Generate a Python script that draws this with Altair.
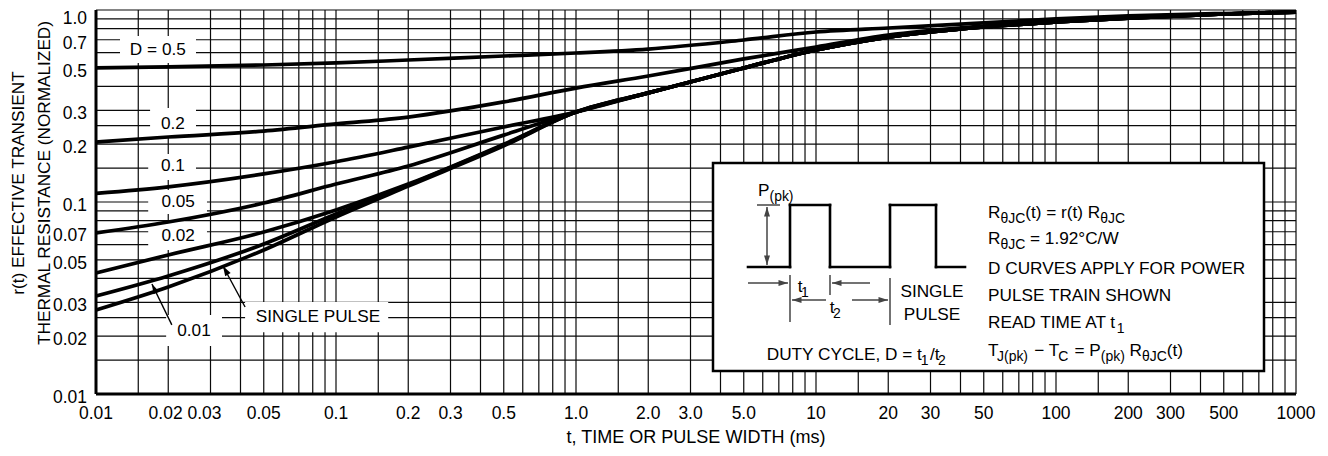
import glob
import subprocess

import altair as alt
import pandas as pd

# ---------------- font choice (Helvetica Narrow look-alike if present) ----------------
def _has_narrow():
    try:
        out = subprocess.run(["fc-list", ":", "family"], capture_output=True, text=True, timeout=10).stdout
        if "liberation sans narrow" in out.lower():
            return True
    except Exception:
        pass
    return bool(glob.glob("/usr/share/fonts/**/LiberationSansNarrow*", recursive=True))


NARROW = _has_narrow()
FONT = "Liberation Sans Narrow" if NARROW else "Liberation Sans"
K = 1.0 if NARROW else 0.82          # size factor so that text widths stay the same


def fs(nominal):
    return round(nominal * K, 2)


# ---------------- curve data ----------------
t_ms = [0.01, 0.02, 0.05, 0.1, 0.2, 0.5, 1, 2, 5, 10, 20, 50, 100, 200, 500, 1000]
r_d050 = [0.499, 0.505, 0.517, 0.530, 0.549, 0.576, 0.597, 0.626, 0.698, 0.768, 0.806, 0.856, 0.898, 0.931, 0.959, 0.976]
r_d020 = [0.205, 0.218, 0.234, 0.255, 0.277, 0.332, 0.392, 0.453, 0.556, 0.642, 0.741, 0.825, 0.876, 0.920, 0.953, 0.976]
r_d010 = [0.111, 0.120, 0.140, 0.162, 0.193, 0.246, 0.294, 0.370, 0.499, 0.619, 0.723, 0.816, 0.866, 0.908, 0.953, 0.976]
r_d005 = [0.0690, 0.0787, 0.0988, 0.124, 0.154, 0.223, 0.294, 0.370, 0.499, 0.619, 0.723, 0.816, 0.866, 0.908, 0.953, 0.976]
r_d002 = [0.0427, 0.0530, 0.0698, 0.0909, 0.124, 0.200, 0.294, 0.370, 0.499, 0.619, 0.723, 0.816, 0.866, 0.908, 0.953, 0.976]
r_d001 = [0.0324, 0.0412, 0.0604, 0.0866, 0.1227, 0.198, 0.294, 0.370, 0.499, 0.619, 0.723, 0.816, 0.866, 0.908, 0.953, 0.976]
r_single = [0.0274, 0.0361, 0.0562, 0.0836, 0.121, 0.196, 0.294, 0.370, 0.499, 0.619, 0.723, 0.816, 0.866, 0.908, 0.953, 0.976]
series_names = ["D=0.5", "D=0.2", "D=0.1", "D=0.05", "D=0.02", "D=0.01", "single"]
series_vals = [r_d050, r_d020, r_d010, r_d005, r_d002, r_d001, r_single]

# ---------------- axes: grid positions and labels ----------------
T_MIN, T_MAX, R_MIN, R_MAX = 0.01, 1000, 0.01, 1.0
x_grid = [0.01, 0.015, 0.02, 0.03, 0.04, 0.05, 0.06, 0.07, 0.08, 0.09,
          0.1, 0.15, 0.2, 0.3, 0.4, 0.5, 0.6, 0.7, 0.8, 0.9,
          1, 1.5, 2, 3, 4, 5, 6, 7, 8, 9,
          10, 15, 20, 30, 40, 50, 60, 70, 80, 90,
          100, 150, 200, 300, 400, 500, 600, 700, 800, 900, 1000]
x_label_txt = ["0.01", "0.02", "0.03", "0.05", "0.1", "0.2", "0.3", "0.5", "1.0", "2.0", "3.0", "5.0",
               "10", "20", "30", "50", "100", "200", "300", "500", "1000"]
x_label_pos = [0.01, 0.0195, 0.0283, 0.05, 0.1, 0.2, 0.3, 0.5, 1, 2, 3, 5, 10, 20, 30, 50, 100, 200, 300, 500, 1000]
y_grid = [0.01, 0.015, 0.02, 0.025, 0.03, 0.04, 0.05, 0.06, 0.07, 0.08, 0.09,
          0.1, 0.15, 0.2, 0.25, 0.3, 0.4, 0.5, 0.6, 0.7, 0.8, 0.9, 1.0]
y_label_txt = ["0.01", "0.02", "0.03", "0.05", "0.07", "0.1", "0.2", "0.3", "0.5", "0.7", "1.0"]
y_label_pos = [0.01, 0.02, 0.03, 0.05, 0.07, 0.1, 0.2, 0.3, 0.5, 0.7, 0.94]
x_title = "t, TIME OR PULSE WIDTH (ms)"
x_title_t = 3.162                      # centre of the time axis
y_title_lines = ["r(t) EFFECTIVE TRANSIENT", "THERMAL RESISTANCE (NORMALIZED)"]
y_title_t = [0.00478, 0.00613]         # left of the axis, one per line
y_title_r = 0.1256

# ---------------- curve labels ----------------
lab_text = ["D = 0.5", "0.2", "0.1", "0.05", "0.02", "0.01", "SINGLE PULSE"]
lab_t = [0.0181, 0.0209, 0.0209, 0.0220, 0.0220, 0.0256, 0.0841]
lab_r = [0.619, 0.255, 0.154, 0.100, 0.0665, 0.0213, 0.0252]
box_t1 = [0.01259, 0.0168, 0.0165, 0.0165, 0.0165, 0.0196, 0.0418]
box_t2 = [0.0261, 0.0261, 0.0261, 0.0290, 0.0290, 0.0335, 0.165]
box_r1 = [0.530, 0.221, 0.130, 0.0866, 0.0562, 0.0178, 0.0210]
box_r2 = [0.732, 0.309, 0.178, 0.1155, 0.0787, 0.0258, 0.0301]
arr_t1 = [0.0207, 0.0418]
arr_r1 = [0.0229, 0.0284]
arr_t2 = [0.0171, 0.0338]
arr_r2 = [0.0374, 0.0464]
arr_angle = [334, 330]

# ---------------- inset diagram (box units: 0..551 wide, 0..208 tall, y down) ----------------
inset_w, inset_h = 551, 208
wave_x1 = [35, 77, 77, 117, 117, 177, 177, 223, 223]
wave_y1 = [104, 104, 42, 42, 104, 104, 42, 42, 104]
wave_x2 = [77, 77, 117, 117, 177, 177, 223, 223, 252]
wave_y2 = [104, 42, 42, 104, 104, 42, 42, 104, 104]
thin_x1 = [44, 54, 35, 157, 77, 117, 177, 113, 139]
thin_y1 = [42, 44, 120, 120, 112, 112, 115, 137, 137]
thin_x2 = [67, 54, 75, 119, 77, 117, 177, 79, 175]
thin_y2 = [42, 102, 120, 120, 159, 132, 162, 137, 137]
head_x = [54, 54, 75, 119, 79, 175]
head_y = [44, 102, 120, 120, 137, 137]
head_angle = [0, 180, 90, 270, 270, 90]

# text runs: (x, baseline y, align, [(text, is_subscript), ...])
inset_runs = [
    (45, 33, "left", [("P", 0), ("(pk)", 1)]),
    (91, 129, "center", [("t", 0), ("1", 1)]),
    (123, 150, "center", [("t", 0), ("2", 1)]),
    (144, 197, "center", [("DUTY CYCLE, D = t", 0), ("1", 1), ("/t", 0), ("2", 1)]),
    (219, 134, "center", [("SINGLE", 0)]),
    (219, 157, "center", [("PULSE", 0)]),
    (275, 55, "left", [("R", 0), ("θJC", 1), ("(t) = r(t) R", 0), ("θJC", 1)]),
    (275, 81, "left", [("R", 0), ("θJC", 1), (" = 1.92°C/W", 0)]),
    (275, 111, "left", [("D CURVES APPLY FOR POWER", 0)]),
    (275, 138, "left", [("PULSE TRAIN SHOWN", 0)]),
    (275, 165, "left", [("READ TIME AT t", 0), ("1", 1)]),
    (275, 193, "left", [("T", 0), ("J(pk)", 1), (" − T", 0), ("C", 1), (" = P", 0), ("(pk)", 1),
                        (" R", 0), ("θJC", 1), ("(t)", 0)]),
]
MAIN_PT, SUB_PT, SUB_DROP = 21, 17, 5

# Helvetica advance widths (1/1000 em); Liberation fonts share these metrics
AFM = {' ': 278, '(': 333, ')': 333, ',': 278, '.': 278, '/': 278, '=': 584, '°': 400, '−': 584, 'θ': 556}
AFM.update({d: 556 for d in "0123456789"})
AFM.update(dict(zip("ABCDEFGHIJKLMNOPQRSTUVWXYZ",
                    [667, 667, 722, 722, 667, 611, 778, 722, 278, 500, 667, 556, 833, 722, 778, 667, 778, 722,
                     667, 611, 722, 667, 944, 667, 667, 611])))
AFM.update(dict(zip("abcdefghijklmnopqrstuvwxyz",
                    [556, 556, 500, 556, 556, 278, 556, 556, 222, 222, 500, 222, 833, 556, 556, 556, 556, 333,
                     500, 278, 556, 500, 722, 500, 500, 500])))


def text_w(s, pt):
    return sum(AFM.get(c, 556) for c in s) / 1000.0 * pt * 0.82


seg_rows = []
for x0, y0, align, parts in inset_runs:
    total = sum(text_w(s, SUB_PT if sub else MAIN_PT) for s, sub in parts)
    x = x0 - total / 2 if align == "center" else x0
    prev = ""
    for s, sub in parts:
        pt = SUB_PT if sub else MAIN_PT
        lead = len(s) - len(s.lstrip(" "))
        kern = -1.5 if (sub and prev.endswith(("t", "T"))) else 0
        seg_rows.append({"text": s.strip(" "), "x": x + text_w(" " * lead, pt) + kern,
                         "y": y0 + (SUB_DROP if sub else 0), "s": fs(pt)})
        x += text_w(s, pt)
        prev = s

# ---------------- tables ----------------
curves = pd.DataFrame(
    [{"t": t, "r": r, "D": n} for n, vals in zip(series_names, series_vals) for t, r in zip(t_ms, vals)]
)
labels = pd.DataFrame({"text": lab_text, "t": lab_t, "r": lab_r,
                       "t1": box_t1, "t2": box_t2, "r1": box_r1, "r2": box_r2})
arrows = pd.DataFrame({"t1": arr_t1, "r1": arr_r1, "t2": arr_t2, "r2": arr_r2, "ang": arr_angle})
xg = pd.DataFrame({"t": x_grid})
yg = pd.DataFrame({"r": y_grid})
xl = pd.DataFrame({"t": x_label_pos, "text": x_label_txt, "r": [R_MIN] * len(x_label_pos)})
yl = pd.DataFrame({"r": y_label_pos, "text": y_label_txt, "t": [T_MIN] * len(y_label_pos)})
xt = pd.DataFrame({"t": [x_title_t], "r": [R_MIN], "text": [x_title]})
yt = pd.DataFrame({"t": y_title_t, "r": [y_title_r] * 2, "text": y_title_lines})
axl_x = pd.DataFrame({"t": [T_MIN]})
axl_y = pd.DataFrame({"r": [R_MIN]})

xs = alt.Scale(type="log", domain=[T_MIN, T_MAX], nice=False)
ys = alt.Scale(type="log", domain=[R_MIN, R_MAX], nice=False)
X = lambda f: alt.X(f, scale=xs, axis=None)
Y = lambda f: alt.Y(f, scale=ys, axis=None)

grid_v = alt.Chart(xg).mark_rule(color="#0a0a0a", strokeWidth=1.2).encode(x=X("t:Q"))
grid_h = alt.Chart(yg).mark_rule(color="#0a0a0a", strokeWidth=1.2).encode(y=Y("r:Q"))
boxes = alt.Chart(labels).mark_rect(fill="white", strokeWidth=0).encode(
    x=X("t1:Q"), x2="t2:Q", y=Y("r1:Q"), y2="r2:Q")
lines = alt.Chart(curves).mark_line(color="black", strokeWidth=3.7, interpolate="monotone").encode(
    x=X("t:Q"), y=Y("r:Q"), detail="D:N")
dom_l = alt.Chart(axl_x).mark_rule(color="black", strokeWidth=3).encode(x=X("t:Q"))
dom_b = alt.Chart(axl_y).mark_rule(color="black", strokeWidth=3).encode(y=Y("r:Q"))
xlab = alt.Chart(xl).mark_text(font=FONT, fontSize=fs(21.3), color="black", align="center",
                               baseline="alphabetic", dy=25).encode(x=X("t:Q"), y=Y("r:Q"), text="text:N")
ylab = alt.Chart(yl).mark_text(font=FONT, fontSize=fs(21.3), color="black", align="right",
                               baseline="alphabetic", dx=-9, dy=9).encode(x=X("t:Q"), y=Y("r:Q"), text="text:N")
xtit = alt.Chart(xt).mark_text(font=FONT, fontSize=fs(22), color="black", align="center",
                               baseline="alphabetic", dy=49).encode(x=X("t:Q"), y=Y("r:Q"), text="text:N")
ytit = alt.Chart(yt).mark_text(font=FONT, fontSize=fs(21), color="black", align="center",
                               baseline="middle", angle=270).encode(x=X("t:Q"), y=Y("r:Q"), text="text:N")
texts = alt.Chart(labels).mark_text(font=FONT, fontSize=fs(21), color="black", align="center",
                                    baseline="middle").encode(x=X("t:Q"), y=Y("r:Q"), text="text:N")
arrow_lines = alt.Chart(arrows).mark_rule(color="black", strokeWidth=1.4).encode(
    x=X("t1:Q"), y=Y("r1:Q"), x2="t2:Q", y2="r2:Q")
HEAD = "M0,0L0.6,1.9L-0.6,1.9Z"
arrow_heads = alt.Chart(arrows).mark_point(shape=HEAD, filled=True, color="black", size=110,
                                           opacity=1).encode(
    x=X("t2:Q"), y=Y("r2:Q"), angle=alt.Angle("ang:Q", scale=None))


# ----- inset: box units mapped onto the log axes (box origin at t=3.72 ms, r=0.16) -----
def bx(f):
    return f"pow(10, -2 + (datum.{f} + 617) / 240)"


def by(f):
    return f"pow(10, -(datum.{f} + 153) / 192)"


frame = pd.DataFrame({"x1": [0], "x2": [inset_w], "y1": [0], "y2": [inset_h]})
waves = pd.DataFrame({"x1": wave_x1, "y1": wave_y1, "x2": wave_x2, "y2": wave_y2})
thins = pd.DataFrame({"x1": thin_x1, "y1": thin_y1, "x2": thin_x2, "y2": thin_y2})
heads = pd.DataFrame({"x": head_x, "y": head_y, "ang": head_angle})
segs = pd.DataFrame(seg_rows)


def seg_chart(df):
    return alt.Chart(df).transform_calculate(
        tx1=bx("x1"), tx2=bx("x2"), ty1=by("y1"), ty2=by("y2"))


enc4 = dict(x=X("tx1:Q"), x2="tx2:Q", y=Y("ty1:Q"), y2="ty2:Q")
inset_frame = seg_chart(frame).mark_rect(fill="white", stroke="black", strokeWidth=2.5).encode(**enc4)
inset_wave = seg_chart(waves).mark_rule(color="black", strokeWidth=2.6, strokeCap="square").encode(**enc4)
inset_thin = seg_chart(thins).mark_rule(color="#444444", strokeWidth=1.5).encode(**enc4)
inset_heads = alt.Chart(heads).transform_calculate(tx=bx("x"), ty=by("y")).mark_point(
    shape=HEAD, filled=True, color="#444444", size=100, opacity=1).encode(
    x=X("tx:Q"), y=Y("ty:Q"), angle=alt.Angle("ang:Q", scale=None))
inset_text = alt.Chart(segs).transform_calculate(tx=bx("x"), ty=by("y")).mark_text(
    font=FONT, color="black", align="left", baseline="alphabetic").encode(
    x=X("tx:Q"), y=Y("ty:Q"), text="text:N", size=alt.Size("s:Q", scale=None))

chart = alt.layer(grid_v, grid_h, boxes, lines, dom_l, dom_b, xlab, ylab, xtit, ytit,
                  texts, arrow_lines, arrow_heads,
                  inset_frame, inset_wave, inset_thin, inset_heads, inset_text).properties(
    width=1200, height=384, background="white",
    autosize=alt.AutoSizeParams(type="none"),
    padding={"left": 88, "top": 2, "right": 24, "bottom": 54},
).configure_view(strokeWidth=0)

chart.save("out.html", embed_options={"renderer": "svg", "actions": False})
